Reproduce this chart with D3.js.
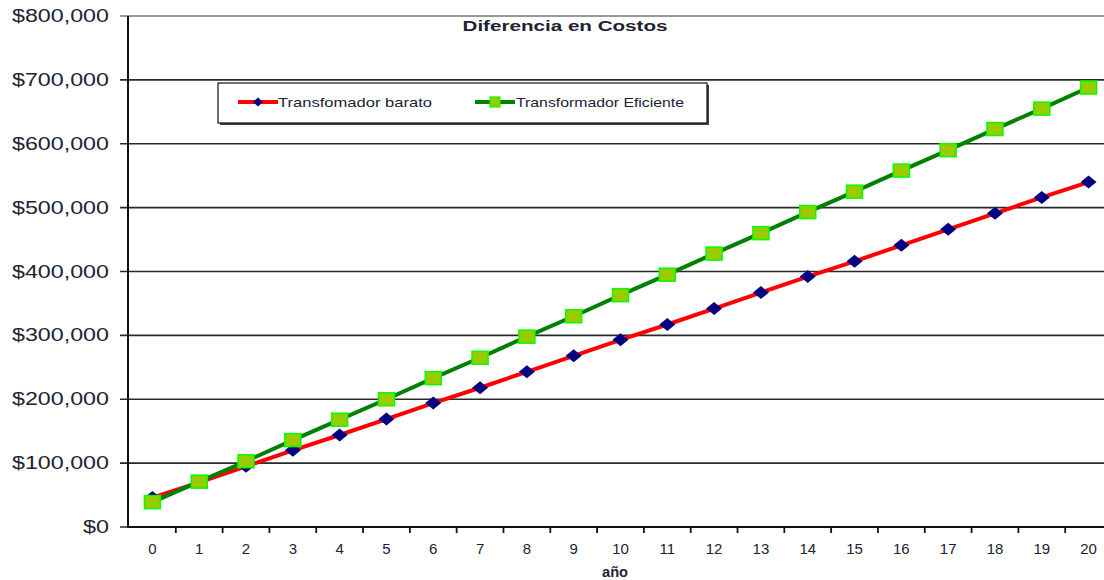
<!DOCTYPE html>
<html>
<head>
<meta charset="utf-8">
<script src="https://cdn.jsdelivr.net/npm/d3@7"></script>
<style>
  html, body { margin: 0; padding: 0; background: #fff; }
  svg { display: block; }
  text { font-family: "Liberation Sans", Arial, sans-serif; fill: #222233; }
</style>
</head>
<body>
<svg id="chart" width="1104" height="580"></svg>
<script>
const years = [0,1,2,3,4,5,6,7,8,9,10,11,12,13,14,15,16,17,18,19,20];
const barato = [46000, 70000, 95000, 120000, 144000, 169000, 194000, 218000, 243000, 268000, 293000,
                317000, 342000, 367000, 392000, 416000, 441000, 466000, 491000, 516000, 540000];
const eficiente = [39000, 71000, 103000, 136000, 168000, 200000, 233000, 265000, 298000, 330000, 363000,
                   395000, 428000, 460000, 493000, 525000, 558000, 590000, 623000, 655000, 688000];
const yTicks = [0, 100000, 200000, 300000, 400000, 500000, 600000, 700000, 800000];
const seriesNames = ["Transfomador barato", "Transformador Eficiente"];
const title = "Diferencia en Costos";
const xTitle = "año";

(function () {
const svg = d3.select("#chart");
const pLeft = 129, pRight = 1112, pTop = 16, pBottom = 527;

const x = d3.scaleBand().domain(years).range([pLeft, pRight]).padding(0);
const y = d3.scaleLinear().domain([0, 800000]).range([pBottom, pTop]);
const cx = d => x(d) + x.bandwidth() / 2;

// gridlines
svg.append("g").selectAll("line").data(yTicks).join("line")
  .attr("x1", pLeft - 9).attr("x2", 1104)
  .attr("y1", d => y(d)).attr("y2", d => y(d))
  .attr("stroke", d => d === 800000 ? "#999" : "#2a2a2a")
  .attr("stroke-width", d => d === 800000 ? 2 : 1.6);

// y labels
const fmt = d => "$" + d3.format(",")(d);
svg.append("g").selectAll("text").data(yTicks).join("text")
  .attr("x", 109).attr("y", d => y(d) + 6)
  .attr("text-anchor", "end")
  .attr("font-size", 17.5)
  .attr("textLength", d => d === 0 ? 26 : 97)
  .attr("lengthAdjust", "spacingAndGlyphs")
  .text(fmt);

// axes lines
svg.append("line").attr("x1", pLeft - 1).attr("x2", pLeft - 1).attr("y1", pTop).attr("y2", pBottom + 1)
  .attr("stroke", "#111").attr("stroke-width", 2);
svg.append("line").attr("x1", pLeft - 1).attr("x2", 1104).attr("y1", pBottom).attr("y2", pBottom)
  .attr("stroke", "#111").attr("stroke-width", 2);

// x ticks at band boundaries
svg.append("g").selectAll("line").data(years.slice(1)).join("line")
  .attr("x1", d => x(d)).attr("x2", d => x(d))
  .attr("y1", pBottom).attr("y2", pBottom + 6)
  .attr("stroke", "#111").attr("stroke-width", 1.8);

// x labels
svg.append("g").selectAll("text").data(years).join("text")
  .attr("x", d => cx(d)).attr("y", 554)
  .attr("text-anchor", "middle")
  .attr("font-size", 15)
  .text(d => d);

// x title
svg.append("text").attr("x", 615).attr("y", 577)
  .attr("text-anchor", "middle").attr("font-size", 14).attr("font-weight", "bold")
  .attr("textLength", 26).attr("lengthAdjust", "spacingAndGlyphs")
  .text(xTitle);

// title
svg.append("text").attr("x", 565).attr("y", 31)
  .attr("text-anchor", "middle").attr("font-size", 14).attr("font-weight", "bold")
  .attr("textLength", 205).attr("lengthAdjust", "spacingAndGlyphs")
  .text(title);

// lines
const lineGen = vals => d3.line().x((d, i) => cx(years[i])).y(d => y(d))(vals);
svg.append("path").attr("d", lineGen(barato)).attr("fill", "none")
  .attr("stroke", "#ff0000").attr("stroke-width", 4);
svg.append("path").attr("d", lineGen(eficiente)).attr("fill", "none")
  .attr("stroke", "#008000").attr("stroke-width", 4);

// markers
const diamond = (w, h) => `M0,${-h/2} L${w/2},0 L0,${h/2} L${-w/2},0 Z`;
svg.append("g").selectAll("path").data(barato).join("path")
  .attr("transform", (d, i) => `translate(${cx(years[i])},${y(d)})`)
  .attr("d", diamond(16, 13))
  .attr("fill", "#000080");
svg.append("g").selectAll("rect").data(eficiente).join("rect")
  .attr("x", (d, i) => cx(years[i]) - 8).attr("y", d => y(d) - 6.5)
  .attr("width", 16).attr("height", 13)
  .attr("fill", "#99cc00").attr("stroke", "#00ff00").attr("stroke-width", 1.5);

// legend
const lg = svg.append("g");
lg.append("rect").attr("x", 220).attr("y", 85).attr("width", 489).attr("height", 40).attr("fill", "#444");
lg.append("rect").attr("x", 218).attr("y", 83).attr("width", 489).attr("height", 40)
  .attr("fill", "#fff").attr("stroke", "#111").attr("stroke-width", 1.2);
lg.append("line").attr("x1", 238).attr("x2", 278).attr("y1", 102).attr("y2", 102)
  .attr("stroke", "#ff0000").attr("stroke-width", 4);
lg.append("path").attr("transform", "translate(258,102)").attr("d", diamond(10, 9)).attr("fill", "#000080");
lg.append("text").attr("x", 278).attr("y", 107).attr("font-size", 13.5)
  .attr("textLength", 154).attr("lengthAdjust", "spacingAndGlyphs").text(seriesNames[0]);
lg.append("line").attr("x1", 475).attr("x2", 515).attr("y1", 102).attr("y2", 102)
  .attr("stroke", "#008000").attr("stroke-width", 4);
lg.append("rect").attr("x", 490).attr("y", 97).attr("width", 10).attr("height", 10)
  .attr("fill", "#99cc00").attr("stroke", "#00ff00").attr("stroke-width", 1.2);
lg.append("text").attr("x", 516).attr("y", 107).attr("font-size", 13.5)
  .attr("textLength", 168).attr("lengthAdjust", "spacingAndGlyphs").text(seriesNames[1]);
})();
</script>
</body>
</html>
